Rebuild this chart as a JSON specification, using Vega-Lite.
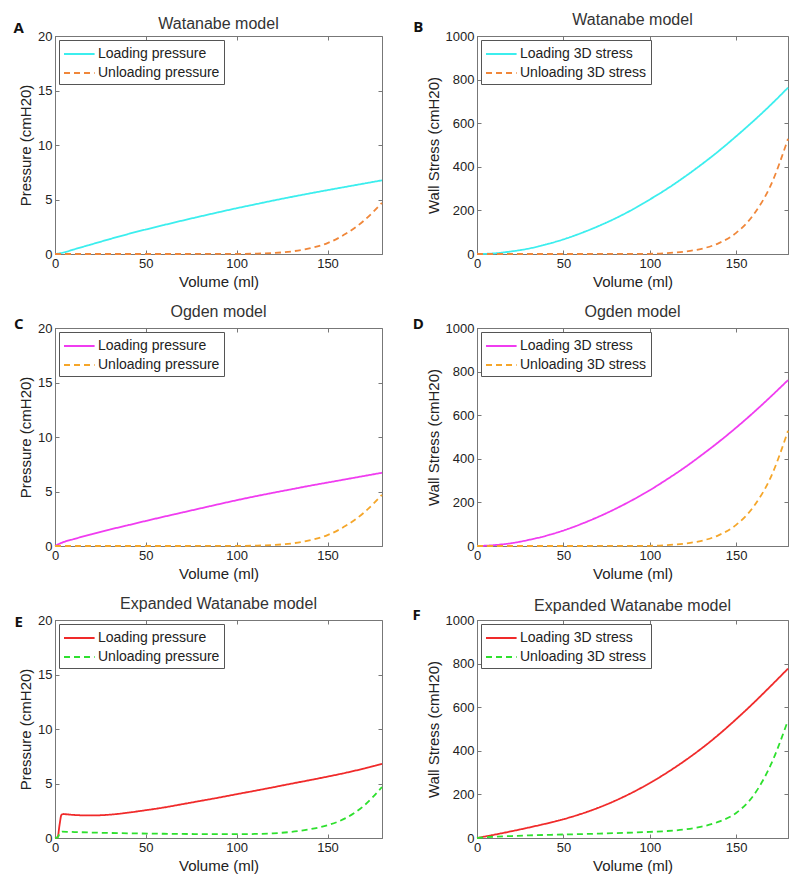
{
  "$schema": "https://vega.github.io/schema/vega-lite/v6.json",
  "background": "white",
  "padding": {"left": 12, "top": 11, "right": 5, "bottom": 5},
  "config": {
    "font": "Liberation Sans",
    "view": {"stroke": "#777", "strokeWidth": 1},
    "title": {"font": "Liberation Sans", "fontSize": 16, "fontWeight": "normal", "color": "#333", "anchor": "middle", "frame": "group"},
    "axis": {"grid": false, "labelFont": "Liberation Sans", "labelFontSize": 13, "labelColor": "#222", "titleFont": "Liberation Sans", "titleFontSize": 15, "titleFontWeight": "normal", "titleColor": "#222", "domainColor": "#777", "tickColor": "#777", "tickSize": -4, "labelPadding": 7, "titlePadding": 4, "labelFlush": false, "labelOverlap": false, "format": "d"},
    "legend": {"orient": "top-left", "offset": 4, "padding": 4, "strokeColor": "#555", "fillColor": "white", "labelFont": "Liberation Sans", "labelFontSize": 14, "labelColor": "#222", "symbolType": "M-1,0L2.4,0", "symbolSize": 324, "symbolStrokeWidth": 1.8, "rowPadding": 2, "labelOffset": 15, "title": null}
  },
  "data": {"values": [
    {"p":"A","s":"Loading pressure","v":0,"y":0},{"p":"A","s":"Loading pressure","v":5,"y":0.15},{"p":"A","s":"Loading pressure","v":10,"y":0.4},{"p":"A","s":"Loading pressure","v":20,"y":0.88},{"p":"A","s":"Loading pressure","v":30,"y":1.36},{"p":"A","s":"Loading pressure","v":40,"y":1.82},{"p":"A","s":"Loading pressure","v":50,"y":2.25},{"p":"A","s":"Loading pressure","v":60,"y":2.66},{"p":"A","s":"Loading pressure","v":70,"y":3.06},{"p":"A","s":"Loading pressure","v":80,"y":3.45},{"p":"A","s":"Loading pressure","v":90,"y":3.83},{"p":"A","s":"Loading pressure","v":100,"y":4.2},{"p":"A","s":"Loading pressure","v":110,"y":4.55},{"p":"A","s":"Loading pressure","v":120,"y":4.9},{"p":"A","s":"Loading pressure","v":130,"y":5.23},{"p":"A","s":"Loading pressure","v":140,"y":5.55},{"p":"A","s":"Loading pressure","v":150,"y":5.86},{"p":"A","s":"Loading pressure","v":160,"y":6.16},{"p":"A","s":"Loading pressure","v":170,"y":6.46},{"p":"A","s":"Loading pressure","v":180,"y":6.76},
    {"p":"A","s":"Unloading pressure","v":0,"y":0},{"p":"A","s":"Unloading pressure","v":50,"y":0},{"p":"A","s":"Unloading pressure","v":100,"y":0.01},{"p":"A","s":"Unloading pressure","v":110,"y":0.03},{"p":"A","s":"Unloading pressure","v":120,"y":0.09},{"p":"A","s":"Unloading pressure","v":130,"y":0.23},{"p":"A","s":"Unloading pressure","v":140,"y":0.52},{"p":"A","s":"Unloading pressure","v":150,"y":1.0},{"p":"A","s":"Unloading pressure","v":160,"y":1.85},{"p":"A","s":"Unloading pressure","v":170,"y":3.05},{"p":"A","s":"Unloading pressure","v":180,"y":4.7},
    {"p":"B","s":"Loading 3D stress","v":0,"y":0},{"p":"B","s":"Loading 3D stress","v":10,"y":3},{"p":"B","s":"Loading 3D stress","v":20,"y":12},{"p":"B","s":"Loading 3D stress","v":30,"y":25},{"p":"B","s":"Loading 3D stress","v":40,"y":44},{"p":"B","s":"Loading 3D stress","v":50,"y":67},{"p":"B","s":"Loading 3D stress","v":60,"y":95},{"p":"B","s":"Loading 3D stress","v":70,"y":127},{"p":"B","s":"Loading 3D stress","v":80,"y":163},{"p":"B","s":"Loading 3D stress","v":90,"y":204},{"p":"B","s":"Loading 3D stress","v":100,"y":250},{"p":"B","s":"Loading 3D stress","v":110,"y":299},{"p":"B","s":"Loading 3D stress","v":120,"y":353},{"p":"B","s":"Loading 3D stress","v":130,"y":411},{"p":"B","s":"Loading 3D stress","v":140,"y":473},{"p":"B","s":"Loading 3D stress","v":150,"y":540},{"p":"B","s":"Loading 3D stress","v":160,"y":610},{"p":"B","s":"Loading 3D stress","v":170,"y":684},{"p":"B","s":"Loading 3D stress","v":180,"y":763},
    {"p":"B","s":"Unloading 3D stress","v":0,"y":0},{"p":"B","s":"Unloading 3D stress","v":50,"y":0},{"p":"B","s":"Unloading 3D stress","v":100,"y":1},{"p":"B","s":"Unloading 3D stress","v":110,"y":4},{"p":"B","s":"Unloading 3D stress","v":120,"y":11},{"p":"B","s":"Unloading 3D stress","v":130,"y":24},{"p":"B","s":"Unloading 3D stress","v":140,"y":50},{"p":"B","s":"Unloading 3D stress","v":150,"y":97},{"p":"B","s":"Unloading 3D stress","v":160,"y":180},{"p":"B","s":"Unloading 3D stress","v":170,"y":315},{"p":"B","s":"Unloading 3D stress","v":180,"y":528},
    {"p":"C","s":"Loading pressure","v":0,"y":0},{"p":"C","s":"Loading pressure","v":3,"y":0.25},{"p":"C","s":"Loading pressure","v":5,"y":0.38},{"p":"C","s":"Loading pressure","v":10,"y":0.62},{"p":"C","s":"Loading pressure","v":20,"y":1.07},{"p":"C","s":"Loading pressure","v":30,"y":1.5},{"p":"C","s":"Loading pressure","v":40,"y":1.9},{"p":"C","s":"Loading pressure","v":50,"y":2.3},{"p":"C","s":"Loading pressure","v":60,"y":2.69},{"p":"C","s":"Loading pressure","v":70,"y":3.07},{"p":"C","s":"Loading pressure","v":80,"y":3.45},{"p":"C","s":"Loading pressure","v":90,"y":3.83},{"p":"C","s":"Loading pressure","v":100,"y":4.2},{"p":"C","s":"Loading pressure","v":110,"y":4.55},{"p":"C","s":"Loading pressure","v":120,"y":4.88},{"p":"C","s":"Loading pressure","v":130,"y":5.2},{"p":"C","s":"Loading pressure","v":140,"y":5.52},{"p":"C","s":"Loading pressure","v":150,"y":5.82},{"p":"C","s":"Loading pressure","v":160,"y":6.12},{"p":"C","s":"Loading pressure","v":170,"y":6.42},{"p":"C","s":"Loading pressure","v":180,"y":6.72},
    {"p":"C","s":"Unloading pressure","v":0,"y":0},{"p":"C","s":"Unloading pressure","v":50,"y":0},{"p":"C","s":"Unloading pressure","v":100,"y":0.01},{"p":"C","s":"Unloading pressure","v":110,"y":0.03},{"p":"C","s":"Unloading pressure","v":120,"y":0.09},{"p":"C","s":"Unloading pressure","v":130,"y":0.23},{"p":"C","s":"Unloading pressure","v":140,"y":0.52},{"p":"C","s":"Unloading pressure","v":150,"y":1.0},{"p":"C","s":"Unloading pressure","v":160,"y":1.85},{"p":"C","s":"Unloading pressure","v":170,"y":3.05},{"p":"C","s":"Unloading pressure","v":180,"y":4.7},
    {"p":"D","s":"Loading 3D stress","v":0,"y":0},{"p":"D","s":"Loading 3D stress","v":10,"y":4},{"p":"D","s":"Loading 3D stress","v":20,"y":13},{"p":"D","s":"Loading 3D stress","v":30,"y":28},{"p":"D","s":"Loading 3D stress","v":40,"y":47},{"p":"D","s":"Loading 3D stress","v":50,"y":71},{"p":"D","s":"Loading 3D stress","v":60,"y":100},{"p":"D","s":"Loading 3D stress","v":70,"y":133},{"p":"D","s":"Loading 3D stress","v":80,"y":170},{"p":"D","s":"Loading 3D stress","v":90,"y":211},{"p":"D","s":"Loading 3D stress","v":100,"y":256},{"p":"D","s":"Loading 3D stress","v":110,"y":306},{"p":"D","s":"Loading 3D stress","v":120,"y":359},{"p":"D","s":"Loading 3D stress","v":130,"y":417},{"p":"D","s":"Loading 3D stress","v":140,"y":478},{"p":"D","s":"Loading 3D stress","v":150,"y":543},{"p":"D","s":"Loading 3D stress","v":160,"y":612},{"p":"D","s":"Loading 3D stress","v":170,"y":685},{"p":"D","s":"Loading 3D stress","v":180,"y":761},
    {"p":"D","s":"Unloading 3D stress","v":0,"y":0},{"p":"D","s":"Unloading 3D stress","v":50,"y":0},{"p":"D","s":"Unloading 3D stress","v":100,"y":1},{"p":"D","s":"Unloading 3D stress","v":110,"y":4},{"p":"D","s":"Unloading 3D stress","v":120,"y":11},{"p":"D","s":"Unloading 3D stress","v":130,"y":24},{"p":"D","s":"Unloading 3D stress","v":140,"y":50},{"p":"D","s":"Unloading 3D stress","v":150,"y":97},{"p":"D","s":"Unloading 3D stress","v":160,"y":180},{"p":"D","s":"Unloading 3D stress","v":170,"y":315},{"p":"D","s":"Unloading 3D stress","v":180,"y":528},
    {"p":"E","s":"Loading pressure","v":0,"y":0},{"p":"E","s":"Loading pressure","v":1.5,"y":0.1},{"p":"E","s":"Loading pressure","v":2.5,"y":1.2},{"p":"E","s":"Loading pressure","v":3.5,"y":2.1},{"p":"E","s":"Loading pressure","v":4.5,"y":2.2},{"p":"E","s":"Loading pressure","v":6,"y":2.18},{"p":"E","s":"Loading pressure","v":10,"y":2.12},{"p":"E","s":"Loading pressure","v":15,"y":2.08},{"p":"E","s":"Loading pressure","v":20,"y":2.07},{"p":"E","s":"Loading pressure","v":30,"y":2.14},{"p":"E","s":"Loading pressure","v":40,"y":2.32},{"p":"E","s":"Loading pressure","v":50,"y":2.55},{"p":"E","s":"Loading pressure","v":60,"y":2.8},{"p":"E","s":"Loading pressure","v":70,"y":3.1},{"p":"E","s":"Loading pressure","v":80,"y":3.4},{"p":"E","s":"Loading pressure","v":90,"y":3.7},{"p":"E","s":"Loading pressure","v":100,"y":4.02},{"p":"E","s":"Loading pressure","v":110,"y":4.33},{"p":"E","s":"Loading pressure","v":120,"y":4.65},{"p":"E","s":"Loading pressure","v":130,"y":4.98},{"p":"E","s":"Loading pressure","v":140,"y":5.3},{"p":"E","s":"Loading pressure","v":150,"y":5.63},{"p":"E","s":"Loading pressure","v":160,"y":5.98},{"p":"E","s":"Loading pressure","v":170,"y":6.37},{"p":"E","s":"Loading pressure","v":180,"y":6.8},
    {"p":"E","s":"Unloading pressure","v":0,"y":0},{"p":"E","s":"Unloading pressure","v":1.5,"y":0.05},{"p":"E","s":"Unloading pressure","v":2.5,"y":0.4},{"p":"E","s":"Unloading pressure","v":4,"y":0.58},{"p":"E","s":"Unloading pressure","v":8,"y":0.56},{"p":"E","s":"Unloading pressure","v":20,"y":0.5},{"p":"E","s":"Unloading pressure","v":40,"y":0.43},{"p":"E","s":"Unloading pressure","v":60,"y":0.39},{"p":"E","s":"Unloading pressure","v":80,"y":0.36},{"p":"E","s":"Unloading pressure","v":100,"y":0.35},{"p":"E","s":"Unloading pressure","v":110,"y":0.37},{"p":"E","s":"Unloading pressure","v":120,"y":0.43},{"p":"E","s":"Unloading pressure","v":130,"y":0.56},{"p":"E","s":"Unloading pressure","v":140,"y":0.8},{"p":"E","s":"Unloading pressure","v":150,"y":1.17},{"p":"E","s":"Unloading pressure","v":160,"y":1.82},{"p":"E","s":"Unloading pressure","v":170,"y":2.95},{"p":"E","s":"Unloading pressure","v":180,"y":4.68},
    {"p":"F","s":"Loading 3D stress","v":0,"y":0},{"p":"F","s":"Loading 3D stress","v":10,"y":15},{"p":"F","s":"Loading 3D stress","v":20,"y":31},{"p":"F","s":"Loading 3D stress","v":30,"y":48},{"p":"F","s":"Loading 3D stress","v":40,"y":66},{"p":"F","s":"Loading 3D stress","v":50,"y":86},{"p":"F","s":"Loading 3D stress","v":60,"y":110},{"p":"F","s":"Loading 3D stress","v":70,"y":138},{"p":"F","s":"Loading 3D stress","v":80,"y":171},{"p":"F","s":"Loading 3D stress","v":90,"y":209},{"p":"F","s":"Loading 3D stress","v":100,"y":252},{"p":"F","s":"Loading 3D stress","v":110,"y":300},{"p":"F","s":"Loading 3D stress","v":120,"y":353},{"p":"F","s":"Loading 3D stress","v":130,"y":411},{"p":"F","s":"Loading 3D stress","v":140,"y":475},{"p":"F","s":"Loading 3D stress","v":150,"y":545},{"p":"F","s":"Loading 3D stress","v":160,"y":619},{"p":"F","s":"Loading 3D stress","v":170,"y":697},{"p":"F","s":"Loading 3D stress","v":180,"y":777},
    {"p":"F","s":"Unloading 3D stress","v":0,"y":0},{"p":"F","s":"Unloading 3D stress","v":10,"y":6},{"p":"F","s":"Unloading 3D stress","v":20,"y":9},{"p":"F","s":"Unloading 3D stress","v":30,"y":12},{"p":"F","s":"Unloading 3D stress","v":50,"y":16},{"p":"F","s":"Unloading 3D stress","v":70,"y":20},{"p":"F","s":"Unloading 3D stress","v":90,"y":25},{"p":"F","s":"Unloading 3D stress","v":100,"y":28},{"p":"F","s":"Unloading 3D stress","v":110,"y":32},{"p":"F","s":"Unloading 3D stress","v":120,"y":39},{"p":"F","s":"Unloading 3D stress","v":130,"y":52},{"p":"F","s":"Unloading 3D stress","v":140,"y":75},{"p":"F","s":"Unloading 3D stress","v":150,"y":115},{"p":"F","s":"Unloading 3D stress","v":160,"y":195},{"p":"F","s":"Unloading 3D stress","v":170,"y":335},{"p":"F","s":"Unloading 3D stress","v":180,"y":540}
  ]},
  "columns": 2,
  "spacing": {"row": 74, "column": 95},
  "bounds": "flush",
  "resolve": {"scale": {"color": "independent", "strokeDash": "independent"}, "legend": {"color": "independent", "strokeDash": "independent"}},
  "concat": [
    {
      "width": 327, "height": 218, "title": {"text": "Watanabe model", "offset": -10.5},
      "layer": [
        {"transform": [{"filter": "datum.p === 'A'"}], "mark": {"type": "line", "strokeWidth": 1.8, "interpolate": "monotone"},
         "encoding": {
           "x": {"field": "v", "type": "quantitative", "scale": {"domain": [0, 180], "nice": false}, "axis": {"title": "Volume (ml)", "values": [0, 50, 100, 150]}},
           "y": {"field": "y", "type": "quantitative", "scale": {"domain": [0, 20], "nice": false}, "axis": {"title": "Pressure (cmH20)", "values": [0, 5, 10, 15, 20]}},
           "color": {"field": "s", "type": "nominal", "scale": {"domain": ["Loading pressure", "Unloading pressure"], "range": ["#3ceeee", "#f0873a"]}},
           "strokeDash": {"field": "s", "type": "nominal", "scale": {"domain": ["Loading pressure", "Unloading pressure"], "range": [[1, 0], [6, 4]]}}
         }},
        {"transform": [{"filter": "datum.p === 'A'"}], "mark": {"type": "line", "opacity": 0},
         "encoding": {
           "x": {"field": "v", "type": "quantitative", "axis": {"orient": "top", "labels": false, "title": null, "domain": false, "values": [0, 50, 100, 150]}},
           "y": {"field": "y", "type": "quantitative", "axis": {"orient": "right", "labels": false, "title": null, "domain": false, "values": [0, 5, 10, 15, 20]}}
         }},
        {"data": {"values": [{"label": "A"}]}, "mark": {"type": "text", "fontWeight": "bold", "fontSize": 15, "font": "Open Sans", "color": "#111"},
         "encoding": {"x": {"datum": -20, "type": "quantitative", "axis": null}, "y": {"datum": 20.69, "type": "quantitative", "axis": null}, "text": {"field": "label"}}}
      ],
      "resolve": {"axis": {"x": "independent", "y": "independent"}}
    },
    {
      "width": 311, "height": 218, "title": {"text": "Watanabe model", "offset": -8},
      "layer": [
        {"transform": [{"filter": "datum.p === 'B'"}], "mark": {"type": "line", "strokeWidth": 1.8, "interpolate": "monotone"},
         "encoding": {
           "x": {"field": "v", "type": "quantitative", "scale": {"domain": [0, 180], "nice": false}, "axis": {"title": "Volume (ml)", "values": [0, 50, 100, 150]}},
           "y": {"field": "y", "type": "quantitative", "scale": {"domain": [0, 1000], "nice": false}, "axis": {"title": "Wall Stress (cmH20)", "values": [0, 200, 400, 600, 800, 1000]}},
           "color": {"field": "s", "type": "nominal", "scale": {"domain": ["Loading 3D stress", "Unloading 3D stress"], "range": ["#3ceeee", "#f0873a"]}},
           "strokeDash": {"field": "s", "type": "nominal", "scale": {"domain": ["Loading 3D stress", "Unloading 3D stress"], "range": [[1, 0], [6, 4]]}}
         }},
        {"transform": [{"filter": "datum.p === 'B'"}], "mark": {"type": "line", "opacity": 0},
         "encoding": {
           "x": {"field": "v", "type": "quantitative", "axis": {"orient": "top", "labels": false, "title": null, "domain": false, "values": [0, 50, 100, 150]}},
           "y": {"field": "y", "type": "quantitative", "axis": {"orient": "right", "labels": false, "title": null, "domain": false, "values": [0, 200, 400, 600, 800, 1000]}}
         }},
        {"data": {"values": [{"label": "B"}]}, "mark": {"type": "text", "fontWeight": "bold", "fontSize": 15, "font": "Open Sans", "color": "#111"},
         "encoding": {"x": {"datum": -34, "type": "quantitative", "axis": null}, "y": {"datum": 1041, "type": "quantitative", "axis": null}, "text": {"field": "label"}}}
      ],
      "resolve": {"axis": {"x": "independent", "y": "independent"}}
    },
    {
      "width": 327, "height": 218, "title": {"text": "Ogden model", "offset": -3},
      "layer": [
        {"transform": [{"filter": "datum.p === 'C'"}], "mark": {"type": "line", "strokeWidth": 1.8, "interpolate": "monotone"},
         "encoding": {
           "x": {"field": "v", "type": "quantitative", "scale": {"domain": [0, 180], "nice": false}, "axis": {"title": "Volume (ml)", "values": [0, 50, 100, 150]}},
           "y": {"field": "y", "type": "quantitative", "scale": {"domain": [0, 20], "nice": false}, "axis": {"title": "Pressure (cmH20)", "values": [0, 5, 10, 15, 20]}},
           "color": {"field": "s", "type": "nominal", "scale": {"domain": ["Loading pressure", "Unloading pressure"], "range": ["#f03cf0", "#f5a62a"]}},
           "strokeDash": {"field": "s", "type": "nominal", "scale": {"domain": ["Loading pressure", "Unloading pressure"], "range": [[1, 0], [6, 4]]}}
         }},
        {"transform": [{"filter": "datum.p === 'C'"}], "mark": {"type": "line", "opacity": 0},
         "encoding": {
           "x": {"field": "v", "type": "quantitative", "axis": {"orient": "top", "labels": false, "title": null, "domain": false, "values": [0, 50, 100, 150]}},
           "y": {"field": "y", "type": "quantitative", "axis": {"orient": "right", "labels": false, "title": null, "domain": false, "values": [0, 5, 10, 15, 20]}}
         }},
        {"data": {"values": [{"label": "C"}]}, "mark": {"type": "text", "fontWeight": "bold", "fontSize": 15, "font": "Open Sans", "color": "#111"},
         "encoding": {"x": {"datum": -20, "type": "quantitative", "axis": null}, "y": {"datum": 20.37, "type": "quantitative", "axis": null}, "text": {"field": "label"}}}
      ],
      "resolve": {"axis": {"x": "independent", "y": "independent"}}
    },
    {
      "width": 311, "height": 218, "title": {"text": "Ogden model", "offset": -3},
      "layer": [
        {"transform": [{"filter": "datum.p === 'D'"}], "mark": {"type": "line", "strokeWidth": 1.8, "interpolate": "monotone"},
         "encoding": {
           "x": {"field": "v", "type": "quantitative", "scale": {"domain": [0, 180], "nice": false}, "axis": {"title": "Volume (ml)", "values": [0, 50, 100, 150]}},
           "y": {"field": "y", "type": "quantitative", "scale": {"domain": [0, 1000], "nice": false}, "axis": {"title": "Wall Stress (cmH20)", "values": [0, 200, 400, 600, 800, 1000]}},
           "color": {"field": "s", "type": "nominal", "scale": {"domain": ["Loading 3D stress", "Unloading 3D stress"], "range": ["#f03cf0", "#f5a62a"]}},
           "strokeDash": {"field": "s", "type": "nominal", "scale": {"domain": ["Loading 3D stress", "Unloading 3D stress"], "range": [[1, 0], [6, 4]]}}
         }},
        {"transform": [{"filter": "datum.p === 'D'"}], "mark": {"type": "line", "opacity": 0},
         "encoding": {
           "x": {"field": "v", "type": "quantitative", "axis": {"orient": "top", "labels": false, "title": null, "domain": false, "values": [0, 50, 100, 150]}},
           "y": {"field": "y", "type": "quantitative", "axis": {"orient": "right", "labels": false, "title": null, "domain": false, "values": [0, 200, 400, 600, 800, 1000]}}
         }},
        {"data": {"values": [{"label": "D"}]}, "mark": {"type": "text", "fontWeight": "bold", "fontSize": 15, "font": "Open Sans", "color": "#111"},
         "encoding": {"x": {"datum": -34, "type": "quantitative", "axis": null}, "y": {"datum": 1018, "type": "quantitative", "axis": null}, "text": {"field": "label"}}}
      ],
      "resolve": {"axis": {"x": "independent", "y": "independent"}}
    },
    {
      "width": 327, "height": 218, "title": {"text": "Expanded Watanabe model", "offset": 2},
      "layer": [
        {"transform": [{"filter": "datum.p === 'E'"}], "mark": {"type": "line", "strokeWidth": 1.8, "interpolate": "monotone"},
         "encoding": {
           "x": {"field": "v", "type": "quantitative", "scale": {"domain": [0, 180], "nice": false}, "axis": {"title": "Volume (ml)", "values": [0, 50, 100, 150]}},
           "y": {"field": "y", "type": "quantitative", "scale": {"domain": [0, 20], "nice": false}, "axis": {"title": "Pressure (cmH20)", "values": [0, 5, 10, 15, 20]}},
           "color": {"field": "s", "type": "nominal", "scale": {"domain": ["Loading pressure", "Unloading pressure"], "range": ["#f02a2a", "#2ee02e"]}},
           "strokeDash": {"field": "s", "type": "nominal", "scale": {"domain": ["Loading pressure", "Unloading pressure"], "range": [[1, 0], [6, 4]]}}
         }},
        {"transform": [{"filter": "datum.p === 'E'"}], "mark": {"type": "line", "opacity": 0},
         "encoding": {
           "x": {"field": "v", "type": "quantitative", "axis": {"orient": "top", "labels": false, "title": null, "domain": false, "values": [0, 50, 100, 150]}},
           "y": {"field": "y", "type": "quantitative", "axis": {"orient": "right", "labels": false, "title": null, "domain": false, "values": [0, 5, 10, 15, 20]}}
         }},
        {"data": {"values": [{"label": "E"}]}, "mark": {"type": "text", "fontWeight": "bold", "fontSize": 15, "font": "Open Sans", "color": "#111"},
         "encoding": {"x": {"datum": -20, "type": "quantitative", "axis": null}, "y": {"datum": 19.82, "type": "quantitative", "axis": null}, "text": {"field": "label"}}}
      ],
      "resolve": {"axis": {"x": "independent", "y": "independent"}}
    },
    {
      "width": 311, "height": 218, "title": {"text": "Expanded Watanabe model", "offset": -6},
      "layer": [
        {"transform": [{"filter": "datum.p === 'F'"}], "mark": {"type": "line", "strokeWidth": 1.8, "interpolate": "monotone"},
         "encoding": {
           "x": {"field": "v", "type": "quantitative", "scale": {"domain": [0, 180], "nice": false}, "axis": {"title": "Volume (ml)", "values": [0, 50, 100, 150]}},
           "y": {"field": "y", "type": "quantitative", "scale": {"domain": [0, 1000], "nice": false}, "axis": {"title": "Wall Stress (cmH20)", "values": [0, 200, 400, 600, 800, 1000]}},
           "color": {"field": "s", "type": "nominal", "scale": {"domain": ["Loading 3D stress", "Unloading 3D stress"], "range": ["#f02a2a", "#2ee02e"]}},
           "strokeDash": {"field": "s", "type": "nominal", "scale": {"domain": ["Loading 3D stress", "Unloading 3D stress"], "range": [[1, 0], [6, 4]]}}
         }},
        {"transform": [{"filter": "datum.p === 'F'"}], "mark": {"type": "line", "opacity": 0},
         "encoding": {
           "x": {"field": "v", "type": "quantitative", "axis": {"orient": "top", "labels": false, "title": null, "domain": false, "values": [0, 50, 100, 150]}},
           "y": {"field": "y", "type": "quantitative", "axis": {"orient": "right", "labels": false, "title": null, "domain": false, "values": [0, 200, 400, 600, 800, 1000]}}
         }},
        {"data": {"values": [{"label": "F"}]}, "mark": {"type": "text", "fontWeight": "bold", "fontSize": 15, "font": "Open Sans", "color": "#111"},
         "encoding": {"x": {"datum": -35, "type": "quantitative", "axis": null}, "y": {"datum": 1023, "type": "quantitative", "axis": null}, "text": {"field": "label"}}}
      ],
      "resolve": {"axis": {"x": "independent", "y": "independent"}}
    }
  ]
}
